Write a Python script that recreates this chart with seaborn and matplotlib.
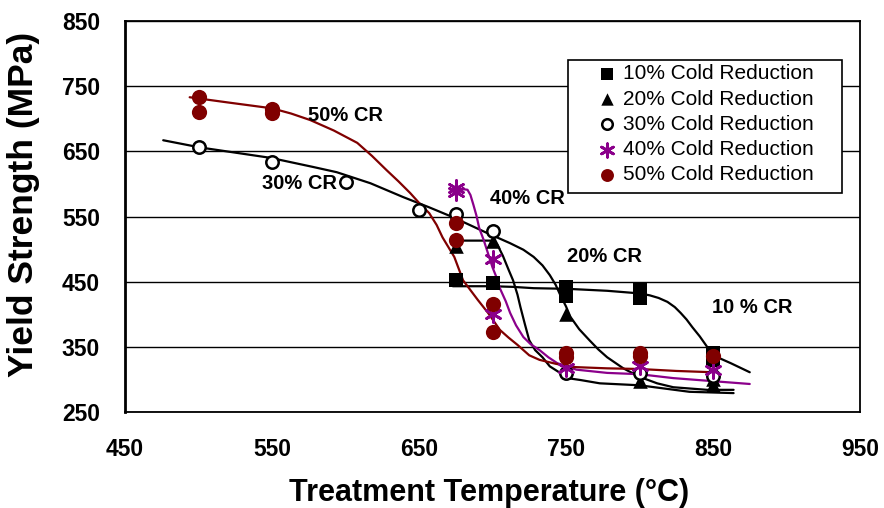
import matplotlib
matplotlib.use("Agg")
import matplotlib.pyplot as plt
from matplotlib.patches import Rectangle
import seaborn as sns

# Measured yield strength (MPa) at each treatment temperature (°C)
t10 = [675, 700, 750, 750, 800, 800, 850, 850]
y10 = [452, 448, 442, 428, 437, 425, 340, 330]

t20 = [675, 700, 750, 800, 850, 850]
y20 = [505, 512, 400, 298, 292, 300]

t30 = [500, 550, 600, 650, 675, 700, 750, 800, 850]
y30 = [656, 633, 603, 560, 554, 527, 310, 310, 305]

t40 = [675, 675, 700, 700, 750, 800, 850]
y40 = [593, 588, 485, 400, 318, 320, 315]

t50 = [500, 500, 550, 550, 675, 675, 700, 700, 750, 750, 800, 800, 850]
y50 = [733, 710, 715, 709, 540, 514, 416, 373, 340, 335, 341, 336, 336]

# Trend curves through each data set
c10_t = [673, 700, 714, 728, 751, 778, 800, 807, 813, 819, 824, 828, 832,
         836, 841, 846, 853, 862, 875]
c10_y = [443, 443, 442, 440, 439, 436, 432, 429, 425, 419, 411, 402, 392,
         380, 366, 350, 334, 325, 311]

c20_t = [675, 700, 703, 707, 711, 714, 717, 719, 722, 725, 729, 734, 739,
         746, 751, 760, 773, 800, 834, 864]
c20_y = [513, 513, 508, 490, 468, 452, 430, 411, 385, 360, 345, 334, 320,
         310, 302, 299, 294, 291, 281, 279]

c30_t = [476, 501, 525, 549, 578, 594, 617, 639, 657, 673, 696, 712, 721,
         728, 734, 739, 743, 746, 750, 753, 759, 766, 772, 778, 789, 800,
         812, 823, 846, 864]
c30_y = [667, 656, 648, 640, 626, 618, 601, 580, 564, 549, 525, 509, 499,
         488, 475, 460, 445, 430, 412, 396, 377, 360, 346, 334, 317, 304,
         294, 288, 284, 284]

c40_t = [673, 680, 683, 685, 687, 689, 691, 694, 696, 698, 700, 703, 705,
         709, 712, 716, 721, 726, 732, 738, 744, 757, 778, 800, 823, 846, 875]
c40_y = [592, 592, 591, 583, 568, 552, 532, 514, 500, 486, 472, 455, 440,
         420, 402, 383, 365, 354, 345, 334, 325, 315, 310, 308, 302, 298, 293]

c50_t = [494, 520, 550, 563, 576, 592, 608, 618, 628, 636, 644, 650, 657,
         662, 666, 670, 674, 677, 680, 685, 690, 697, 705, 711, 717, 725,
         732, 743, 755, 778, 800, 825, 850]
c50_y = [733, 725, 716, 708, 698, 682, 663, 643, 621, 604, 586, 571, 555,
         537, 518, 503, 488, 470, 452, 437, 422, 402, 376, 364, 353, 337,
         330, 324, 319, 317, 316, 313, 311]

labels = ["10% Cold Reduction", "20% Cold Reduction", "30% Cold Reduction",
          "40% Cold Reduction", "50% Cold Reduction"]

curve_notes = ["50% CR", "30% CR", "40% CR", "20% CR", "10 % CR"]
note_t = [600, 569, 724, 776, 877]
note_y = [705, 601, 578, 488, 410]

x_ticks = [450, 550, 650, 750, 850, 950]
y_ticks = [250, 350, 450, 550, 650, 750, 850]

sns.set_theme(style="white")
plt.rcParams["font.family"] = ["Liberation Sans", "DejaVu Sans"]

red = "#800000"
purple = "#8B008B"

fig = plt.figure(figsize=(8.84, 5.08), dpi=100)
ax = fig.add_axes([125 / 884, 96 / 508, 735 / 884, 391 / 508])

# trend curves
for ct, cy, col in [(c10_t, c10_y, "black"), (c20_t, c20_y, "black"),
                    (c30_t, c30_y, "black"), (c40_t, c40_y, purple),
                    (c50_t, c50_y, red)]:
    sns.lineplot(x=ct, y=cy, sort=False, estimator=None, color=col,
                 linewidth=1.6, ax=ax, zorder=3)

# data points
sns.scatterplot(x=t10, y=y10, marker="s", color="black", s=110, linewidth=0,
                ax=ax, label=labels[0], zorder=4)
sns.scatterplot(x=t20, y=y20, marker="^", color="black", s=110, linewidth=0,
                ax=ax, label=labels[1], zorder=4)
sns.scatterplot(x=t30, y=y30, marker="o", color="white", edgecolor="black",
                s=80, linewidth=1.8, ax=ax, label=labels[2], zorder=4)
sns.scatterplot(x=t40, y=y40, marker=(6, 2, 0), color=purple, s=130,
                linewidth=2, ax=ax, label=labels[3], zorder=4)
sns.scatterplot(x=t50, y=y50, marker="o", color=red, s=120, linewidth=0,
                ax=ax, label=labels[4], zorder=4)

for txt, tx, ty in zip(curve_notes, note_t, note_y):
    ax.text(tx, ty, txt, ha="center", va="center", fontsize=14.5,
            fontweight="bold", color="black", zorder=5)

ax.set_xlim(450, 950)
ax.set_ylim(250, 850)
ax.set_xticks(x_ticks)
ax.set_yticks(y_ticks)
ax.set_xticklabels([str(v) for v in x_ticks], fontsize=16.5, fontweight="bold")
ax.set_yticklabels([str(v) for v in y_ticks], fontsize=16.5, fontweight="bold")
ax.tick_params(axis="both", direction="out", length=6, width=1,
               color="black", labelcolor="black")
ax.tick_params(axis="y", pad=12)
ax.tick_params(axis="x", pad=13)

ax.yaxis.grid(True, color="black", linewidth=1)
ax.xaxis.grid(False)
ax.set_axisbelow(True)
for side in ["top", "right", "bottom"]:
    ax.spines[side].set_color("black")
    ax.spines[side].set_linewidth(1.3)
ax.spines["left"].set_color("black")
ax.spines["left"].set_linewidth(2)

ax.set_xlabel("Treatment Temperature (°C)", fontsize=22, fontweight="bold",
              color="black")
ax.set_ylabel("Yield Strength (MPa)", fontsize=25.5, fontweight="bold",
              color="black")
ax.xaxis.set_label_coords(0.495, -0.168)
ax.yaxis.set_label_coords(-0.115, 0.532)

# legend box
ax.add_patch(Rectangle((0.603, 0.560), 0.3725, 0.340, transform=ax.transAxes,
                       facecolor="white", edgecolor="black", linewidth=1.2,
                       zorder=6))
leg = ax.legend(loc="upper left", bbox_to_anchor=(0.642, 0.889),
                frameon=False, fontsize=15, borderpad=0, handlelength=1.0,
                handletextpad=0.25, labelspacing=0.3, markerscale=0.85,
                borderaxespad=0)
leg.set_zorder(7)
for t in leg.get_texts():
    t.set_color("black")

fig.savefig("out.png", dpi=100)
